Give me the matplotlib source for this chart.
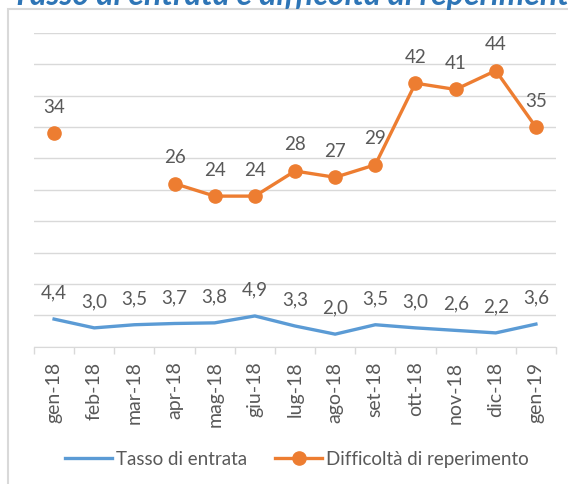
import matplotlib.pyplot as plt
import numpy as np
from matplotlib.patches import Rectangle

plt.rcParams['font.family'] = ['Lato', 'DejaVu Sans']

mesi = ["gen-18", "feb-18", "mar-18", "apr-18", "mag-18", "giu-18", "lug-18",
        "ago-18", "set-18", "ott-18", "nov-18", "dic-18", "gen-19"]
tasso = [4.4, 3.0, 3.5, 3.7, 3.8, 4.9, 3.3, 2.0, 3.5, 3.0, 2.6, 2.2, 3.6]
difficolta = [34, np.nan, np.nan, 26, 24, 24, 28, 27, 29, 42, 41, 44, 35]

blu = "#5B9BD5"
arancio = "#ED7D31"
grigio = "#595959"

fig = plt.figure(figsize=(5.68, 4.85), dpi=100)

# cornice del grafico e titolo tagliato in alto, come nell'originale
fig.patches.append(Rectangle((8/568, -0.1), 1.0, 1 - 10/485 + 0.1,
                             transform=fig.transFigure, fill=False,
                             edgecolor="#D9D9D9", lw=1.5))
fig.text(12/568, 1 - 5/485, "Tasso di entrata e difficoltà di reperimento",
         color="#2E75B6", fontsize=23, fontweight="bold", fontstyle="italic",
         va="baseline", ha="left")

ax = fig.add_axes([34/568, 1 - 347.7/485, 522/568, (347.7 - 34)/485])
x = np.arange(len(mesi))

ax.plot(x, tasso, color=blu, lw=2.4, label="Tasso di entrata", zorder=3)
ax.plot(x, difficolta, color=arancio, lw=2.4, marker="o", markersize=9.5,
        label="Difficoltà di reperimento", zorder=3)

for i, v in enumerate(tasso):
    ax.annotate(f"{v:.1f}".replace(".", ","), (x[i], v), xytext=(0, 19.5),
                textcoords="offset points", ha="center", va="center",
                fontsize=13.5, color=grigio)
for i, v in enumerate(difficolta):
    if not np.isnan(v):
        ax.annotate(f"{v:.0f}", (x[i], v), xytext=(0, 19.5),
                    textcoords="offset points", ha="center", va="center",
                    fontsize=13.5, color=grigio)

ax.set_xlim(-0.5, len(mesi) - 0.5)
ax.set_ylim(0, 50)
ax.set_yticks(np.arange(0, 51, 5))
ax.yaxis.grid(True, color="#D9D9D9", lw=1)
ax.set_axisbelow(True)
ax.tick_params(axis="y", left=False, labelleft=False)

ax.set_xticks(x)
ax.set_xticklabels(mesi, rotation=90, fontsize=14, color=grigio)
ax.set_xticks(np.arange(-0.5, len(mesi)), minor=True)
ax.tick_params(axis="x", which="major", length=0, pad=10)
ax.tick_params(axis="x", which="minor", length=5, color="#D9D9D9", width=1)

for s in ["top", "right", "left"]:
    ax.spines[s].set_visible(False)
ax.spines["bottom"].set_color("#D9D9D9")

fig.legend(loc="center", bbox_to_anchor=(297/568, 1 - 460/485), ncol=2,
           frameon=False, fontsize=13.5, handlelength=2.5, handletextpad=0.2,
           columnspacing=1.5, labelcolor=grigio)

fig.savefig("out.png", dpi=100)
